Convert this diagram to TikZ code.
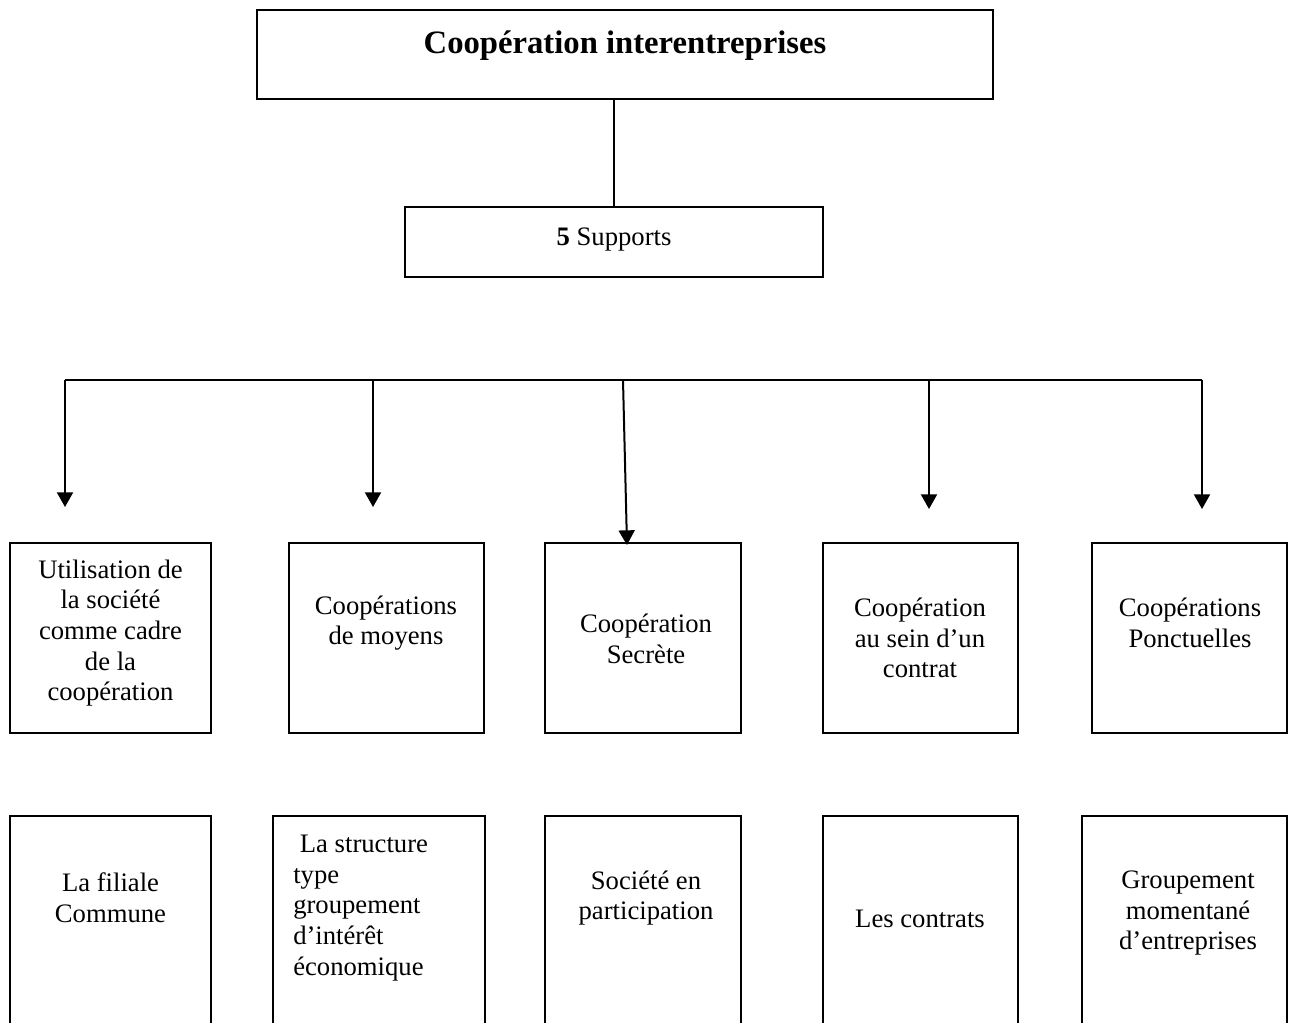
\documentclass[tikz,border=0pt]{standalone}
\usepackage{fontspec}
\setmainfont{Liberation Serif}
\usetikzlibrary{arrows.meta}
\begin{document}
\begin{tikzpicture}[x=0.75pt,y=-0.75pt,
  box/.style={draw, line width=1.1pt, inner sep=0pt},
  txt/.style={align=center, font=\fontsize{20}{23}\selectfont, inner sep=0pt},
  conn/.style={line width=1.5pt},
  arr/.style={line width=1.5pt, -{Triangle[width=12pt,length=11pt]}}]
\useasboundingbox (0,0) rectangle (1289,1022);
\clip (0,0) rectangle (1289,1022);

% top
\node[box, minimum width=552pt, minimum height=66.75pt] (title) at (625,54.5) {};
\node[txt, font=\fontsize{24.5}{28}\selectfont\bfseries] (titletxt) at (625,46) {Coopération interentreprises};
\node[box, minimum width=313.5pt, minimum height=52.5pt] (sup) at (614,242) {};
\node[txt] (suptxt) at (614,240) {\textbf{5} Supports};
\draw[line width=1pt] (sup.north) -- (sup.north |- title.south);

% bus and arrows
\coordinate (busL) at (65,380);
\coordinate (busR) at (1202,380);
\coordinate (m3) at (623,380);
\coordinate (a1) at (65,507);
\coordinate (a2) at (373,507);
\coordinate (a3) at (627,545);
\coordinate (a4) at (929,509);
\coordinate (a5) at (1202,509);
\draw[conn] (busL) -- (busR);
\draw[arr] (busL) -- (a1);
\draw[arr] (a2 |- busL) -- (a2);
\draw[arr] (m3) -- (a3);
\draw[arr] (a4 |- busL) -- (a4);
\draw[arr] (busR) -- (a5);

% row 1
\node[box, minimum width=150.75pt, minimum height=142.5pt] (b1) at (110.5,638) {};
\node[box, minimum width=146.25pt, minimum height=142.5pt] (b2) at (386.5,638) {};
\node[box, minimum width=147pt, minimum height=142.5pt] (b3) at (643,638) {};
\node[box, minimum width=146.25pt, minimum height=142.5pt] (b4) at (920.5,638) {};
\node[box, minimum width=146.25pt, minimum height=142.5pt] (b5) at (1189.5,638) {};
\node[txt] (t1) at (110.5,633) {Utilisation de\\la société\\comme cadre\\de la\\coopération};
\node[txt] (t2) at (386,623) {Coopérations\\de moyens};
\node[txt] (t3) at (646,639) {Coopération\\Secrète};
\node[txt] (t4) at (920,638) {Coopération\\au sein d’un\\contrat};
\node[txt] (t5) at (1190,623) {Coopérations\\Ponctuelles};

% row 2
\node[box, minimum width=150.75pt, minimum height=168pt] (c1) at (110.5,928) {};
\node[box, minimum width=159pt, minimum height=168pt] (c2) at (379,928) {};
\node[box, minimum width=147pt, minimum height=168pt] (c3) at (643,928) {};
\node[box, minimum width=146.25pt, minimum height=168pt] (c4) at (920.5,928) {};
\node[box, minimum width=153.75pt, minimum height=168pt] (c5) at (1184.5,928) {};
\node[txt] (u1) at (110.5,898) {La filiale\\Commune};
\node[txt, align=left, anchor=west] (u2) at (293,908) {\hspace{5pt}La structure\\type\\groupement\\d’intérêt\\économique};
\node[txt] (u3) at (646,898) {Société en\\participation};
\node[txt] (u4) at (920,919) {Les contrats};
\node[txt] (u5) at (1188,913) {Groupement\\momentané\\d’entreprises};
\end{tikzpicture}
\end{document}
